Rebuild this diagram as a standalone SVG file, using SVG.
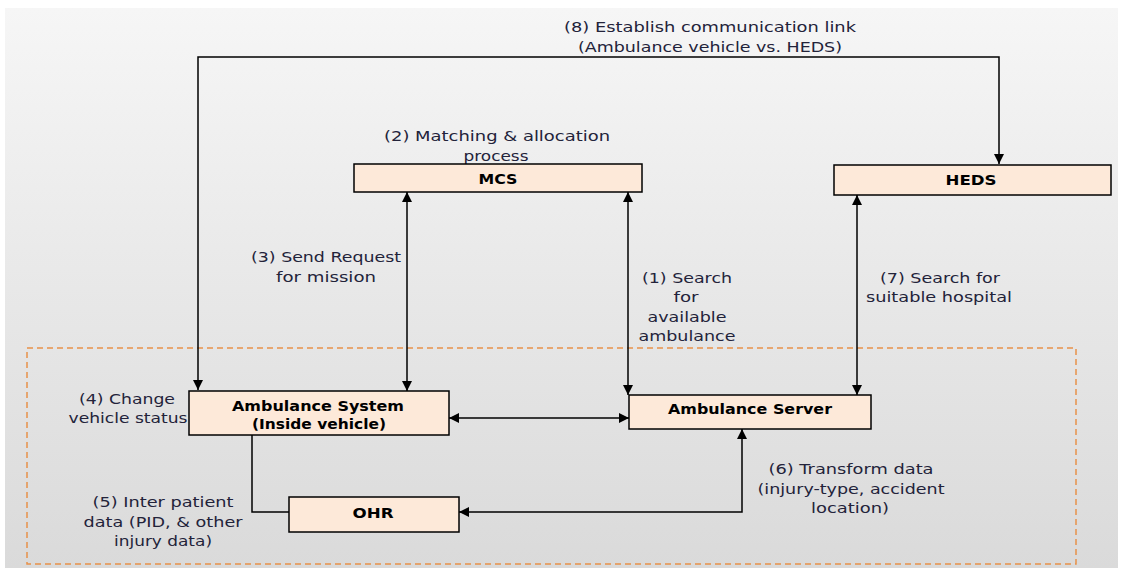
<svg xmlns="http://www.w3.org/2000/svg" width="1123" height="568" viewBox="0 0 1123 568">
<defs>
<linearGradient id="bg" x1="0" y1="0" x2="0" y2="1">
<stop offset="0" stop-color="#f6f6f6"/>
<stop offset="1" stop-color="#dadada"/>
</linearGradient>
<marker id="ah" viewBox="0 0 10 10" refX="10" refY="5" markerWidth="10" markerHeight="10" markerUnits="userSpaceOnUse" orient="auto-start-reverse">
<path d="M0,0 L10,5 L0,10 Z" fill="#000"/>
</marker>
<style>
.box{fill:#fde9d9;stroke:#000;stroke-width:1.5}
.nt{font-family:"DejaVu Sans",sans-serif;font-size:14px;font-weight:bold;fill:#000;text-anchor:middle}
.lb{font-family:"DejaVu Sans",sans-serif;font-size:14px;fill:#23233a;text-anchor:middle}
.cn{fill:none;stroke:#000;stroke-width:1.5}
</style>
</defs>
<rect x="0" y="0" width="1123" height="568" fill="#fff"/>
<rect x="5" y="8" width="1113" height="560" fill="url(#bg)"/>
<rect x="27" y="348" width="1049" height="216" fill="none" stroke="#e8914a" stroke-width="1.5" stroke-dasharray="6,4"/>

<g id="connectors">
<path class="cn" d="M198,390 V57 H999 V164" marker-start="url(#ah)" marker-end="url(#ah)"/>
<path class="cn" d="M407,192 V391" marker-start="url(#ah)" marker-end="url(#ah)"/>
<path class="cn" d="M628,192 V395" marker-start="url(#ah)" marker-end="url(#ah)"/>
<path class="cn" d="M857,195 V395" stroke="#444" marker-start="url(#ah)" marker-end="url(#ah)"/>
<path class="cn" d="M449,418 H629" marker-start="url(#ah)" marker-end="url(#ah)"/>
<path class="cn" d="M252,435 V512 H289"/>
<path class="cn" d="M459,512 H742 V429" marker-start="url(#ah)" marker-end="url(#ah)"/>
</g>

<g id="labels">
<text class="lb" x="710" y="32" textLength="292" lengthAdjust="spacingAndGlyphs">(8) Establish communication link</text>
<text class="lb" x="710" y="52" textLength="264" lengthAdjust="spacingAndGlyphs">(Ambulance vehicle vs. HEDS)</text>
<text class="lb" x="497" y="141" textLength="226" lengthAdjust="spacingAndGlyphs">(2) Matching &amp; allocation</text>
<text class="lb" x="496" y="161" textLength="65" lengthAdjust="spacingAndGlyphs">process</text>
<text class="lb" x="326" y="262" textLength="150" lengthAdjust="spacingAndGlyphs">(3) Send Request</text>
<text class="lb" x="326" y="282" textLength="100" lengthAdjust="spacingAndGlyphs">for mission</text>
<text class="lb" x="687" y="283" textLength="90" lengthAdjust="spacingAndGlyphs">(1) Search</text>
<text class="lb" x="686" y="302" textLength="25" lengthAdjust="spacingAndGlyphs">for</text>
<text class="lb" x="687" y="322" textLength="79" lengthAdjust="spacingAndGlyphs">available</text>
<text class="lb" x="687" y="341" textLength="97" lengthAdjust="spacingAndGlyphs">ambulance</text>
<text class="lb" x="940" y="283" textLength="120" lengthAdjust="spacingAndGlyphs">(7) Search for</text>
<text class="lb" x="939" y="302" textLength="146" lengthAdjust="spacingAndGlyphs">suitable hospital</text>
<text class="lb" x="127" y="404" textLength="96" lengthAdjust="spacingAndGlyphs">(4) Change</text>
<text class="lb" x="128" y="423" textLength="119" lengthAdjust="spacingAndGlyphs">vehicle status</text>
<text class="lb" x="163" y="507" textLength="141" lengthAdjust="spacingAndGlyphs">(5) Inter patient</text>
<text class="lb" x="163" y="527" textLength="159" lengthAdjust="spacingAndGlyphs">data (PID, &amp; other</text>
<text class="lb" x="163" y="546" textLength="98" lengthAdjust="spacingAndGlyphs">injury data)</text>
<text class="lb" x="851" y="474" textLength="165" lengthAdjust="spacingAndGlyphs">(6) Transform data</text>
<text class="lb" x="851" y="494" textLength="187" lengthAdjust="spacingAndGlyphs">(injury-type, accident</text>
<text class="lb" x="850" y="513" textLength="78" lengthAdjust="spacingAndGlyphs">location)</text>
</g>

<g id="MCS">
<rect class="box" x="354" y="164" width="288" height="28"/>
<text class="nt" x="498" y="184" textLength="39" lengthAdjust="spacingAndGlyphs">MCS</text>
</g>
<g id="HEDS">
<rect class="box" x="834" y="165" width="277" height="30"/>
<text class="nt" x="971" y="185" textLength="51" lengthAdjust="spacingAndGlyphs">HEDS</text>
</g>
<g id="AmbulanceSystem">
<rect class="box" x="189" y="391" width="260" height="44"/>
<text class="nt" x="318" y="411" textLength="172" lengthAdjust="spacingAndGlyphs">Ambulance System</text>
<text class="nt" x="319" y="429" textLength="134" lengthAdjust="spacingAndGlyphs">(Inside vehicle)</text>
</g>
<g id="AmbulanceServer">
<rect class="box" x="629" y="395" width="242" height="34"/>
<text class="nt" x="750" y="414" textLength="164" lengthAdjust="spacingAndGlyphs">Ambulance Server</text>
</g>
<g id="OHR">
<rect class="box" x="289" y="497" width="170" height="35"/>
<text class="nt" x="373" y="518" textLength="41" lengthAdjust="spacingAndGlyphs">OHR</text>
</g>
</svg>
